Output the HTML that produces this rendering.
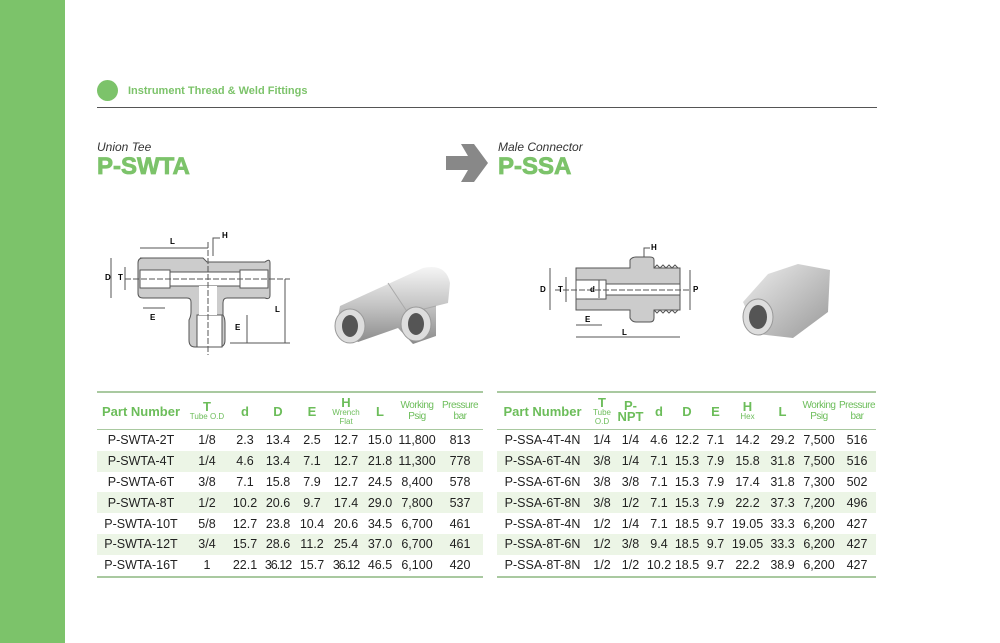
<!DOCTYPE html>
<html><head><style>
body{margin:0;width:1000px;height:643px;background:#fff;position:relative;overflow:hidden;font-family:"Liberation Sans",sans-serif}
.band{position:absolute;left:0;top:0;width:65px;height:643px;background:#7cc36a}
.abs{position:absolute}
table{border-collapse:collapse;table-layout:fixed;position:absolute;font-size:12.5px;color:#222}
th{color:#6cbd5a;font-weight:bold;height:36px;padding:0;line-height:11px;text-align:center;font-size:12px}
th small{display:block;font-size:8px;font-weight:normal;line-height:9px}
td{height:20.8px;padding:0;text-align:center;white-space:nowrap}
tr.g td{background:#ecf5e6}
thead tr{border-top:2px solid #a9c9a0}
tbody tr:first-child{border-top:1px solid #a9c9a0}
tbody tr:last-child{border-bottom:2px solid #a9c9a0}
th.b{font-size:13px}
th.w{font-size:10px;font-weight:normal;color:#6cbd5a;letter-spacing:-0.5px}
.ttl{font-size:24px;font-weight:bold;color:#7cc36a;-webkit-text-stroke:0.8px #7cc36a}
</style></head><body>
<div class="band"></div>
<div class="abs" style="left:97px;top:80px;width:21px;height:21px;border-radius:50%;background:#7cc36a"></div>
<div class="abs" style="left:128px;top:85px;font-size:11px;font-weight:bold;color:#7cc36a">Instrument Thread &amp; Weld Fittings</div>
<div class="abs" style="left:97px;top:107px;width:780px;height:1px;background:#555"></div>
<div class="abs" style="left:97px;top:140px;font-size:12px;font-style:italic;color:#333">Union Tee</div>
<div class="abs ttl" style="left:97px;top:153px">P-SWTA</div>
<svg class="abs" style="left:446px;top:144px" width="44" height="38"><polygon points="0,12 22,12 15,0 28,0 42,19 28,38 15,38 22,26 0,26" fill="#888"/></svg>
<div class="abs" style="left:498px;top:140px;font-size:12px;font-style:italic;color:#333">Male Connector</div>
<div class="abs ttl" style="left:498px;top:153px">P-SSA</div>

<!-- tee drawing -->
<svg class="abs" style="left:95px;top:220px" width="210" height="140" font-size="8" font-family="Liberation Sans" font-weight="bold">
<path d="M45,38 H108 L112,42 H170 Q175,38 175,43 V75 Q175,80 170,78 H132 Q128,78 128,83 V95 Q130,98 130,103 V120 Q130,127 124,127 H100 Q94,127 94,120 V100 Q96,96 96,92 V82 Q96,78 92,78 H48 Q43,78 43,73 V43 Q43,38 48,38 Z" fill="#ccc" stroke="#555"/>
<rect x="45" y="50" width="30" height="18" fill="#fff" stroke="#555"/>
<rect x="145" y="50" width="28" height="18" fill="#fff" stroke="#555"/>
<rect x="75" y="52" width="70" height="14" fill="#fff" stroke="#555"/>
<rect x="102" y="95" width="25" height="32" fill="#fff" stroke="#555"/>
<rect x="104" y="66" width="18" height="29" fill="#fff"/>
<line x1="30" y1="59" x2="195" y2="59" stroke="#555" stroke-dasharray="6,2"/>
<line x1="113" y1="22" x2="113" y2="135" stroke="#555" stroke-dasharray="6,2"/>
<line x1="45" y1="28" x2="113" y2="28" stroke="#555"/><text x="75" y="24">L</text>
<line x1="16" y1="38" x2="16" y2="78" stroke="#555"/><text x="10" y="60">D</text>
<line x1="30" y1="47" x2="30" y2="70" stroke="#555"/><text x="23" y="60">T</text>
<line x1="48" y1="88" x2="70" y2="88" stroke="#555"/><text x="55" y="100">E</text>
<line x1="152" y1="95" x2="152" y2="123" stroke="#555"/><text x="140" y="110">E</text>
<line x1="190" y1="59" x2="190" y2="123" stroke="#555"/><text x="180" y="92">L</text>
<line x1="135" y1="123" x2="195" y2="123" stroke="#555"/>
<path d="M118,36 V18 H125" stroke="#555" fill="none"/><text x="127" y="18">H</text>
</svg>
<!-- tee photo -->
<svg class="abs" style="left:328px;top:258px" width="125" height="92">
<defs><linearGradient id="m" x1="0" y1="0" x2="0" y2="1"><stop offset="0" stop-color="#f5f5f5"/><stop offset="0.5" stop-color="#c4c4c4"/><stop offset="1" stop-color="#8a8a8a"/></linearGradient></defs>
<path d="M12,48 L95,10 Q118,5 122,25 L120,45 L108,48 L108,78 L85,86 L70,70 L30,84 L8,70 Z" fill="url(#m)"/>
<path d="M60,25 L80,55 L108,48" stroke="#aaa" fill="none"/>
<ellipse cx="22" cy="68" rx="15" ry="17" fill="#ddd" stroke="#999"/><ellipse cx="22" cy="68" rx="8" ry="11" fill="#555"/>
<ellipse cx="88" cy="66" rx="15" ry="17" fill="#ddd" stroke="#999"/><ellipse cx="88" cy="66" rx="8" ry="11" fill="#555"/>
</svg>

<!-- connector drawing -->
<svg class="abs" style="left:540px;top:240px" width="170" height="100" font-size="8" font-family="Liberation Sans" font-weight="bold">
<path d="M36,28 H90 V20 Q92,17 96,17 H110 Q114,17 114,20 V28 H140 V70 H114 V78 Q114,82 110,82 H96 Q92,82 90,78 V70 H36 Z" fill="#ccc" stroke="#555"/>
<path d="M114,28 l3,-3 l3,3 l3,-3 l3,3 l3,-3 l3,3 l3,-3 l3,3 M114,70 l3,3 l3,-3 l3,3 l3,-3 l3,3 l3,-3 l3,3 l3,-3" stroke="#555" fill="none"/>
<rect x="36" y="40" width="30" height="19" fill="#fff" stroke="#555"/>
<rect x="66" y="44" width="74" height="11" fill="#fff" stroke="#555"/>
<line x1="15" y1="50" x2="150" y2="50" stroke="#555" stroke-dasharray="6,2"/>
<line x1="10" y1="28" x2="10" y2="70" stroke="#555"/><text x="0" y="52">D</text>
<line x1="26" y1="37" x2="26" y2="62" stroke="#555"/><text x="18" y="52">T</text>
<line x1="59" y1="40" x2="59" y2="58" stroke="#555"/><text x="50" y="52">d</text>
<line x1="150" y1="30" x2="150" y2="70" stroke="#555"/><text x="153" y="52">P</text>
<line x1="36" y1="85" x2="62" y2="85" stroke="#555"/><text x="45" y="82">E</text>
<line x1="36" y1="97" x2="140" y2="97" stroke="#555"/><text x="82" y="95">L</text>
<path d="M104,17 V8 H110" stroke="#555" fill="none"/><text x="111" y="10">H</text>
</svg>
<svg class="abs" style="left:738px;top:262px" width="100" height="80">
<defs><linearGradient id="n" x1="0" y1="0" x2="1" y2="1"><stop offset="0" stop-color="#eee"/><stop offset="0.6" stop-color="#bbb"/><stop offset="1" stop-color="#999"/></linearGradient></defs>
<path d="M5,40 L30,12 L60,2 L92,8 L90,50 L55,76 L20,72 Z" fill="url(#n)"/>
<ellipse cx="20" cy="55" rx="15" ry="18" fill="#ddd" stroke="#999"/><ellipse cx="20" cy="55" rx="9" ry="12" fill="#555"/>
</svg>

<table style="left:97px;top:391px;width:386px">
<colgroup><col style="width:88px"><col style="width:44px"><col style="width:32px"><col style="width:34px"><col style="width:34px"><col style="width:34px"><col style="width:34px"><col style="width:40px"><col style="width:46px"></colgroup>
<thead><tr><th class="b">Part Number</th><th class="b">T<small>Tube O.D</small></th><th class="b">d</th><th class="b">D</th><th class="b">E</th><th class="b">H<small>Wrench Flat</small></th><th class="b">L</th><th class="w">Working Psig</th><th class="w">Pressure bar</th></tr></thead>
<tbody>
<tr><td>P-SWTA-2T</td><td>1/8</td><td>2.3</td><td>13.4</td><td>2.5</td><td>12.7</td><td>15.0</td><td>11,800</td><td>813</td></tr>
<tr class="g"><td>P-SWTA-4T</td><td>1/4</td><td>4.6</td><td>13.4</td><td>7.1</td><td>12.7</td><td>21.8</td><td>11,300</td><td>778</td></tr>
<tr><td>P-SWTA-6T</td><td>3/8</td><td>7.1</td><td>15.8</td><td>7.9</td><td>12.7</td><td>24.5</td><td>8,400</td><td>578</td></tr>
<tr class="g"><td>P-SWTA-8T</td><td>1/2</td><td>10.2</td><td>20.6</td><td>9.7</td><td>17.4</td><td>29.0</td><td>7,800</td><td>537</td></tr>
<tr><td>P-SWTA-10T</td><td>5/8</td><td>12.7</td><td>23.8</td><td>10.4</td><td>20.6</td><td>34.5</td><td>6,700</td><td>461</td></tr>
<tr class="g"><td>P-SWTA-12T</td><td>3/4</td><td>15.7</td><td>28.6</td><td>11.2</td><td>25.4</td><td>37.0</td><td>6,700</td><td>461</td></tr>
<tr><td>P-SWTA-16T</td><td>1</td><td>22.1</td><td style="letter-spacing:-1px">36.12</td><td>15.7</td><td style="letter-spacing:-1px">36.12</td><td>46.5</td><td>6,100</td><td>420</td></tr>
</tbody></table>

<table style="left:497px;top:391px;width:379px">
<colgroup><col style="width:91px"><col style="width:28px"><col style="width:29px"><col style="width:28px"><col style="width:28px"><col style="width:29px"><col style="width:35px"><col style="width:35px"><col style="width:38px"><col style="width:38px"></colgroup>
<thead><tr><th class="b">Part Number</th><th class="b">T<small>Tube O.D</small></th><th class="b">P-<br>NPT</th><th class="b">d</th><th class="b">D</th><th class="b">E</th><th class="b">H<small>Hex</small></th><th class="b">L</th><th class="w">Working Psig</th><th class="w">Pressure bar</th></tr></thead>
<tbody>
<tr><td>P-SSA-4T-4N</td><td>1/4</td><td>1/4</td><td>4.6</td><td>12.2</td><td>7.1</td><td>14.2</td><td>29.2</td><td>7,500</td><td>516</td></tr>
<tr class="g"><td>P-SSA-6T-4N</td><td>3/8</td><td>1/4</td><td>7.1</td><td>15.3</td><td>7.9</td><td>15.8</td><td>31.8</td><td>7,500</td><td>516</td></tr>
<tr><td>P-SSA-6T-6N</td><td>3/8</td><td>3/8</td><td>7.1</td><td>15.3</td><td>7.9</td><td>17.4</td><td>31.8</td><td>7,300</td><td>502</td></tr>
<tr class="g"><td>P-SSA-6T-8N</td><td>3/8</td><td>1/2</td><td>7.1</td><td>15.3</td><td>7.9</td><td>22.2</td><td>37.3</td><td>7,200</td><td>496</td></tr>
<tr><td>P-SSA-8T-4N</td><td>1/2</td><td>1/4</td><td>7.1</td><td>18.5</td><td>9.7</td><td>19.05</td><td>33.3</td><td>6,200</td><td>427</td></tr>
<tr class="g"><td>P-SSA-8T-6N</td><td>1/2</td><td>3/8</td><td>9.4</td><td>18.5</td><td>9.7</td><td>19.05</td><td>33.3</td><td>6,200</td><td>427</td></tr>
<tr><td>P-SSA-8T-8N</td><td>1/2</td><td>1/2</td><td>10.2</td><td>18.5</td><td>9.7</td><td>22.2</td><td>38.9</td><td>6,200</td><td>427</td></tr>
</tbody></table>
</body></html>
